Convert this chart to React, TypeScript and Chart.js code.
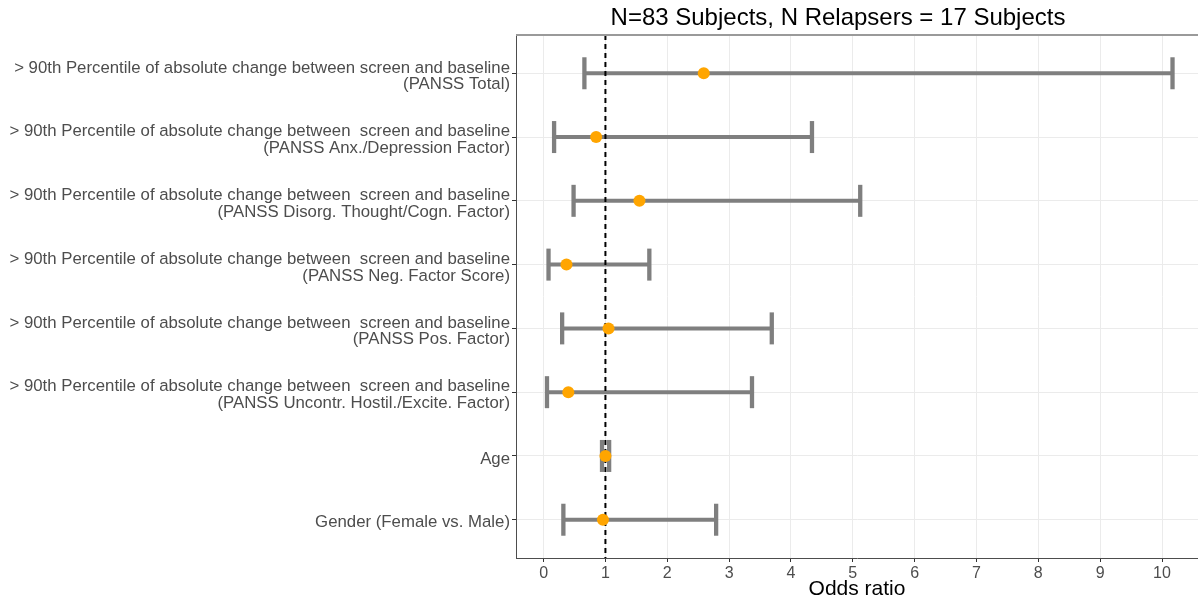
import React, { useEffect, useRef } from "react";
import { Chart, registerables } from "chart.js";

Chart.register(...registerables);

const titleText = "N=83 Subjects, N Relapsers = 17 Subjects";
const xAxisTitle = "Odds ratio";

const rowLabels: string[][] = [
  ["> 90th Percentile of absolute change between screen and baseline", "(PANSS Total)"],
  ["> 90th Percentile of absolute change between  screen and baseline", "(PANSS Anx./Depression Factor)"],
  ["> 90th Percentile of absolute change between  screen and baseline", "(PANSS Disorg. Thought/Cogn. Factor)"],
  ["> 90th Percentile of absolute change between  screen and baseline", "(PANSS Neg. Factor Score)"],
  ["> 90th Percentile of absolute change between  screen and baseline", "(PANSS Pos. Factor)"],
  ["> 90th Percentile of absolute change between  screen and baseline", "(PANSS Uncontr. Hostil./Excite. Factor)"],
  ["Age"],
  ["Gender (Female vs. Male)"],
];

const oddsRatio = [2.59, 0.85, 1.55, 0.37, 1.05, 0.4, 1.0, 0.96];
const ciLower = [0.66, 0.17, 0.485, 0.08, 0.3, 0.055, 0.945, 0.32];
const ciUpper = [10.17, 4.34, 5.12, 1.71, 3.69, 3.37, 1.06, 2.79];

const xTickValues = [0, 1, 2, 3, 4, 5, 6, 7, 8, 9, 10];
const refLine = 1;

const X_MIN = -0.446;
const X_MAX = 10.582;
const Y_MIN = -0.6;
const Y_MAX = rowLabels.length - 1 + 0.6;

const FONT = "'Liberation Sans', Arial, sans-serif";
const GREY = "#7F7F7F";
const ORANGE = "#FFA500";

const decorPlugin = {
  id: "decor",
  afterDraw(chart: any) {
    const { ctx, chartArea } = chart;
    ctx.save();
    ctx.strokeStyle = "#9A9A9A";
    ctx.lineWidth = 2;
    ctx.beginPath();
    ctx.moveTo(chartArea.left, chartArea.top);
    ctx.lineTo(chartArea.right, chartArea.top);
    ctx.stroke();
    ctx.font = `24px ${FONT}`;
    ctx.fillStyle = "#000000";
    ctx.textAlign = "center";
    ctx.textBaseline = "alphabetic";
    ctx.fillText(titleText, 838, 25);
    ctx.restore();
  },
};

export default function App() {
  const canvasRef = useRef<HTMLCanvasElement | null>(null);

  useEffect(() => {
    const canvas = canvasRef.current;
    if (!canvas) return;

    const rows = rowLabels.map((_, i) => i);

    const intervalSets = rows.map((i) => ({
      data: [
        { x: ciLower[i], y: i },
        { x: ciUpper[i], y: i },
      ],
      showLine: true,
      borderColor: GREY,
      borderWidth: 4,
      pointRadius: 0,
      pointHoverRadius: 0,
      order: 4,
    }));

    const datasets: any[] = [
      {
        data: rows.map((i) => ({ x: oddsRatio[i], y: i })),
        pointStyle: "circle",
        pointRadius: 6,
        pointHoverRadius: 6,
        backgroundColor: ORANGE,
        borderColor: ORANGE,
        borderWidth: 0,
        order: 0,
      },
      {
        data: [
          { x: refLine, y: Y_MIN },
          { x: refLine, y: Y_MAX },
        ],
        showLine: true,
        borderColor: "#000000",
        borderWidth: 2,
        borderDash: [5, 4],
        pointRadius: 0,
        pointHoverRadius: 0,
        order: 1,
      },
      {
        data: rows.map((i) => ({ x: ciLower[i], y: i })),
        pointStyle: "line",
        rotation: 90,
        pointRadius: 16,
        pointHoverRadius: 16,
        borderColor: GREY,
        borderWidth: 4.3,
        order: 2,
      },
      {
        data: rows.map((i) => ({ x: ciUpper[i], y: i })),
        pointStyle: "line",
        rotation: 90,
        pointRadius: 16,
        pointHoverRadius: 16,
        borderColor: GREY,
        borderWidth: 4.3,
        order: 2,
      },
      ...intervalSets,
    ];

    const chart = new Chart(canvas, {
      type: "scatter",
      data: { datasets },
      options: {
        animation: false,
        responsive: false,
        maintainAspectRatio: false,
        events: [],
        layout: { autoPadding: false, padding: { top: 35, right: 0, bottom: 0, left: 0 } },
        plugins: {
          legend: { display: false },
          tooltip: { enabled: false },
          title: { display: false },
        },
        scales: {
          x: {
            type: "linear",
            min: X_MIN,
            max: X_MAX,
            afterBuildTicks: (s: any) => {
              s.ticks = xTickValues.map((v) => ({ value: v }));
            },
            afterFit: (s: any) => {
              s.height = 47;
              s.paddingLeft = 0;
              s.paddingRight = 0;
            },
            ticks: {
              autoSkip: false,
              maxRotation: 0,
              padding: 2,
              color: "#4D4D4D",
              font: { family: FONT, size: 16 },
              callback: (v: any) => String(v),
            },
            grid: {
              color: "#EBEBEB",
              lineWidth: 1,
              tickLength: 4,
              tickColor: "#333333",
            },
            border: { color: "#4D4D4D", width: 1 },
            title: {
              display: true,
              text: xAxisTitle,
              color: "#000000",
              font: { family: FONT, size: 21 },
              padding: { top: 0, bottom: 3 },
            },
          },
          y: {
            type: "linear",
            min: Y_MIN,
            max: Y_MAX,
            reverse: true,
            afterBuildTicks: (s: any) => {
              s.ticks = rowLabels.map((_, i) => ({ value: i }));
            },
            afterFit: (s: any) => {
              s.width = 516;
              s.paddingTop = 0;
              s.paddingBottom = 0;
            },
            ticks: {
              autoSkip: false,
              padding: 2,
              labelOffset: 3,
              color: "#4D4D4D",
              font: { family: FONT, size: 16.8, lineHeight: 1.0 },
              callback: (v: any) => rowLabels[v] ?? "",
            },
            grid: {
              color: "#EBEBEB",
              lineWidth: 1,
              tickLength: 4,
              tickColor: "#333333",
            },
            border: { color: "#4D4D4D", width: 1 },
          },
        },
      },
      plugins: [decorPlugin],
    } as any);

    return () => {
      chart.destroy();
    };
  }, []);

  return (
    <div style={{ position: "absolute", left: 0, top: 0, width: 1198, height: 605, background: "#FFFFFF" }}>
      <canvas ref={canvasRef} width={1198} height={605} style={{ display: "block" }} />
    </div>
  );
}
